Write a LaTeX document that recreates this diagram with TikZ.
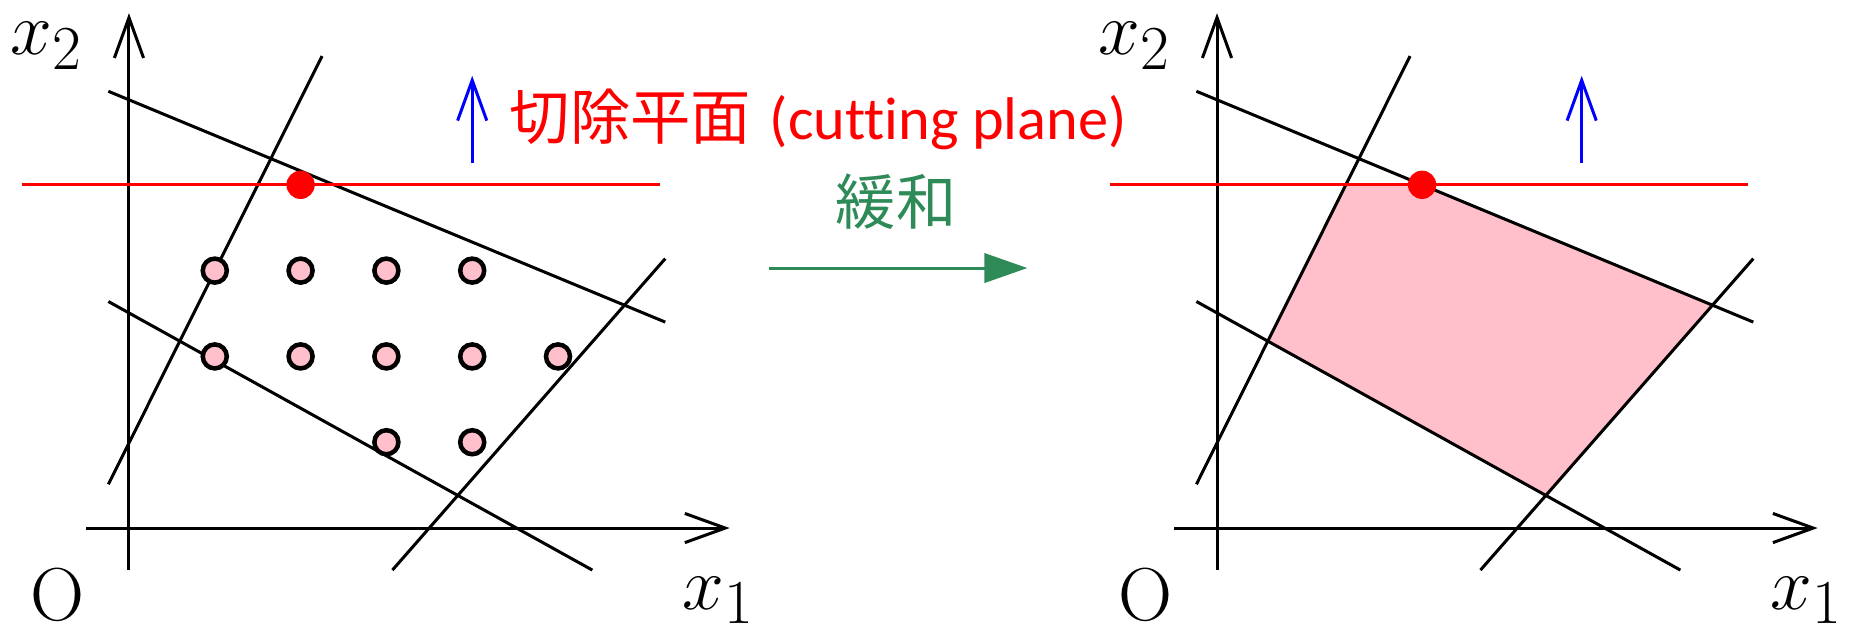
\documentclass[tikz,border=0pt]{standalone}
\usepackage{fontspec}
\newfontfamily\cjk{Noto Sans CJK JP}
\newfontfamily\latn{Carlito}[Ligatures=NoCommon]
\usetikzlibrary{arrows.meta,calc}
\definecolor{relaxgreen}{RGB}{46,139,87}
\definecolor{lppink}{RGB}{255,192,203}
\tikzset{
  axis/.style={line width=1pt,-{Straight Barb[length=4.7mm,width=3.4mm,line width=1pt]}},
  cons/.style={line width=1pt},
  cutline/.style={line width=1pt,red},
  objarrow/.style={line width=1pt,blue,-{Straight Barb[length=4.7mm,width=3.4mm,line width=1pt]}},
  intpt/.style={circle,draw,line width=1.5pt,fill=lppink,minimum size=2.8mm,inner sep=0pt},
  reddot/.style={circle,fill=red,minimum size=3.3mm,inner sep=0pt},
  mathlbl/.style={font=\fontsize{24.88}{30}\selectfont,inner sep=0pt},
}
\begin{document}
\begin{tikzpicture}
\useasboundingbox (-1.503,-1.107) rectangle (20.15,6.154);
% ---------- left panel ----------
\coordinate (LA1) at (-0.24,5.09); \coordinate (LA2) at (6.25,2.40);
\coordinate (LB1) at (-0.24,0.51); \coordinate (LB2) at (2.25,5.50);
\coordinate (LC1) at (-0.24,2.64); \coordinate (LC2) at (5.40,-0.49);
\coordinate (LD1) at (3.07,-0.49); \coordinate (LD2) at (6.25,3.14);
\coordinate (Lcw) at (-1.25,4); \coordinate (Lce) at (6.19,4);
\coordinate (Lxw) at (-0.5,0); \coordinate (Lxe) at (7.0,0);
\coordinate (Lys) at (0,-0.49); \coordinate (Lyn) at (0,6.0);
\coordinate (Lob) at (4,4.26); \coordinate (Lot) at (4,5.27);
\draw[axis] (Lxw) -- (Lxe);
\draw[axis] (Lys) -- (Lyn);
\draw[cons] (LA1) -- (LA2);
\draw[cons] (LB1) -- (LB2);
\draw[cons] (LC1) -- (LC2);
\draw[cons] (LD1) -- (LD2);
\draw[cutline] (Lcw) -- (Lce);
\draw[objarrow] (Lob) -- (Lot);
\foreach \i/\j in {1/3,2/3,3/3,4/3,1/2,2/2,3/2,4/2,5/2,3/1,4/1}{
  \node[intpt] (Lp\i\j) at (\i,\j) {};
}
\node[reddot] (Ldot) at (2,4) {};
\node[mathlbl] (Lx2) at (-0.96,5.62) {$x_2$};
\node[mathlbl] (LO) at (-0.83,-0.78) {O};
\node[mathlbl] (Lx1) at (6.87,-0.84) {$x_1$};
% ---------- middle ----------
\node[red,anchor=west,inner sep=0pt] (cuttxt) at (4.43,4.76)
  {{\cjk\fontsize{20}{24}\selectfont 切除平面}\hspace{0.22cm}{\latn\fontsize{20}{24}\selectfont (cutting plane)}};
\node[relaxgreen,font=\cjk\fontsize{20}{24}\selectfont,inner sep=0pt] (relax) at (8.94,3.80) {緩和};
\coordinate (gs) at (7.46,3.03); \coordinate (ge) at (10.47,3.03);
\draw[relaxgreen,line width=1pt,-{Triangle[length=5mm,width=3.4mm]}] (gs) -- (ge);
% ---------- right panel ----------
\begin{scope}[xshift=12.68cm]
\coordinate (RA1) at (-0.24,5.09); \coordinate (RA2) at (6.25,2.40);
\coordinate (RB1) at (-0.24,0.51); \coordinate (RB2) at (2.25,5.50);
\coordinate (RC1) at (-0.24,2.64); \coordinate (RC2) at (5.40,-0.49);
\coordinate (RD1) at (3.07,-0.49); \coordinate (RD2) at (6.25,3.14);
\coordinate (Rcw) at (-1.25,4); \coordinate (Rce) at (6.19,4);
\coordinate (Rxw) at (-0.5,0); \coordinate (Rxe) at (7.0,0);
\coordinate (Rys) at (0,-0.49); \coordinate (Ryn) at (0,6.0);
\coordinate (Rob) at (4.25,4.26); \coordinate (Rot) at (4.25,5.27);
\fill[lppink] (intersection of Rcw--Rce and RB1--RB2)
  -- (intersection of Rcw--Rce and RA1--RA2)
  -- (intersection of RA1--RA2 and RD1--RD2)
  -- (intersection of RC1--RC2 and RD1--RD2)
  -- (intersection of RB1--RB2 and RC1--RC2) -- cycle;
\draw[axis] (Rxw) -- (Rxe);
\draw[axis] (Rys) -- (Ryn);
\draw[cons] (RA1) -- (RA2);
\draw[cons] (RB1) -- (RB2);
\draw[cons] (RC1) -- (RC2);
\draw[cons] (RD1) -- (RD2);
\draw[cutline] (Rcw) -- (Rce);
\draw[objarrow] (Rob) -- (Rot);
\node[reddot] (Rdot) at (intersection of Rcw--Rce and RA1--RA2) {};
\node[mathlbl] (Rx2) at (-0.96,5.62) {$x_2$};
\node[mathlbl] (RO) at (-0.83,-0.78) {O};
\node[mathlbl] (Rx1) at (6.87,-0.84) {$x_1$};
\end{scope}
\end{tikzpicture}
\end{document}
